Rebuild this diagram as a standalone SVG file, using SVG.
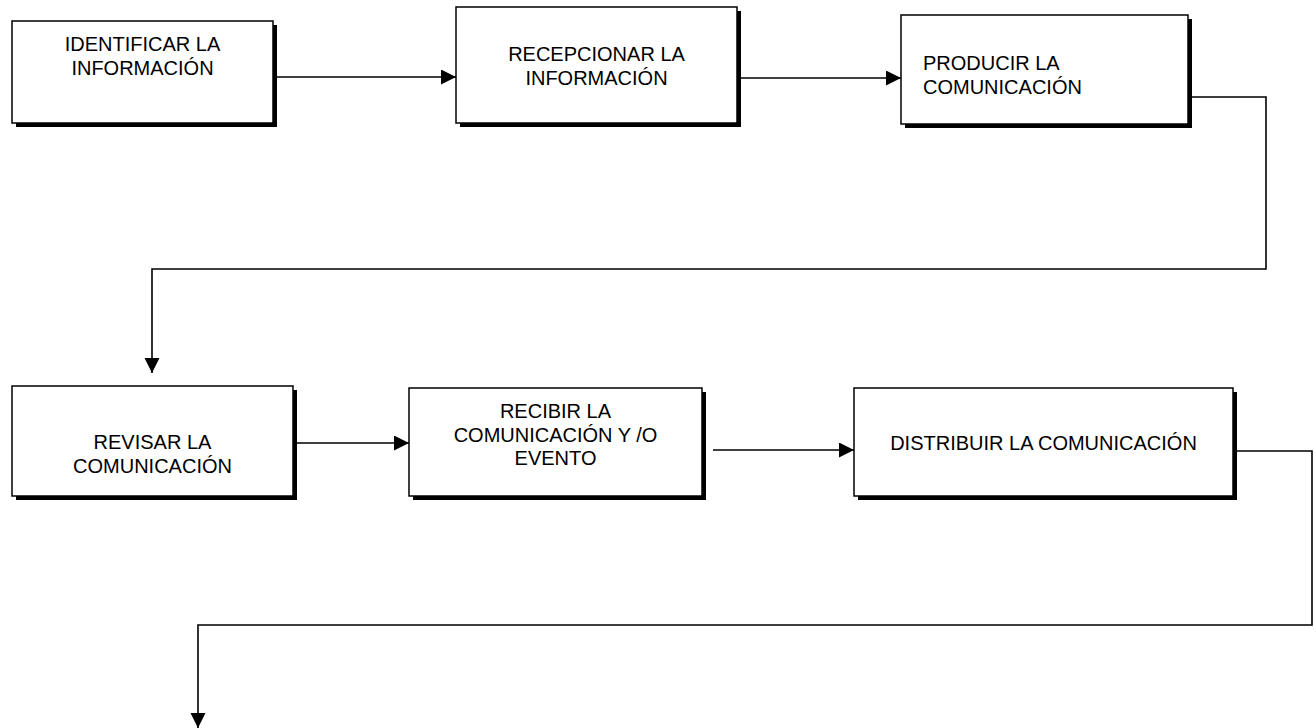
<svg xmlns="http://www.w3.org/2000/svg" width="1316" height="728" viewBox="0 0 1316 728">
<style>
.shadow{fill:#000;}
.box{fill:#fff;stroke:#000;stroke-width:1.5;}
.lbl{font-family:"Liberation Sans",Arial,sans-serif;font-size:20px;fill:#000;}
.c{text-anchor:middle;}
.conn{fill:none;stroke:#000;stroke-width:1.6;}
</style>
<defs>
<marker id="arr" markerUnits="userSpaceOnUse" markerWidth="16" markerHeight="16" refX="15" refY="7.5" orient="auto">
<path d="M0,0 L15,7.5 L0,15 Z" fill="#000"/>
</marker>
</defs>
<rect width="1316" height="728" fill="#fff"/>
<g id="connectors">
<path class="conn" d="M273,77 H456" marker-end="url(#arr)"/>
<path class="conn" d="M737,78 H901" marker-end="url(#arr)"/>
<path class="conn" d="M1188,97 H1266 V269 H152 V373" marker-end="url(#arr)"/>
<path class="conn" d="M293,443 H409" marker-end="url(#arr)"/>
<path class="conn" d="M713,450 H854" marker-end="url(#arr)"/>
<path class="conn" d="M1233,451 H1312 V625 H198 V728" marker-end="url(#arr)"/>
</g>
<g id="n1">
<rect class="shadow" x="16" y="25" width="261" height="102"/>
<rect class="box" x="12" y="21" width="261" height="102"/>
<text class="lbl c" x="142.5" y="51">IDENTIFICAR LA</text>
<text class="lbl c" x="142.5" y="75">INFORMACIÓN</text>
</g>
<g id="n2">
<rect class="shadow" x="460" y="11" width="281" height="116"/>
<rect class="box" x="456" y="7" width="281" height="116"/>
<text class="lbl c" x="596.5" y="61">RECEPCIONAR LA</text>
<text class="lbl c" x="596.5" y="85">INFORMACIÓN</text>
</g>
<g id="n3">
<rect class="shadow" x="905" y="19" width="287" height="109"/>
<rect class="box" x="901" y="15" width="287" height="109"/>
<text class="lbl" x="923" y="70">PRODUCIR LA</text>
<text class="lbl" x="923" y="94">COMUNICACIÓN</text>
</g>
<g id="n4">
<rect class="shadow" x="16" y="390" width="281" height="110"/>
<rect class="box" x="12" y="386" width="281" height="110"/>
<text class="lbl c" x="152.5" y="449">REVISAR LA</text>
<text class="lbl c" x="152.5" y="473">COMUNICACIÓN</text>
</g>
<g id="n5">
<rect class="shadow" x="413" y="392" width="293" height="108"/>
<rect class="box" x="409" y="388" width="293" height="108"/>
<text class="lbl c" x="555.5" y="418">RECIBIR LA</text>
<text class="lbl c" x="555.5" y="442">COMUNICACIÓN Y /O</text>
<text class="lbl c" x="555.5" y="465">EVENTO</text>
</g>
<g id="n6">
<rect class="shadow" x="858" y="392" width="379" height="108"/>
<rect class="box" x="854" y="388" width="379" height="108"/>
<text class="lbl c" x="1043.5" y="450">DISTRIBUIR LA COMUNICACIÓN</text>
</g>
</svg>
